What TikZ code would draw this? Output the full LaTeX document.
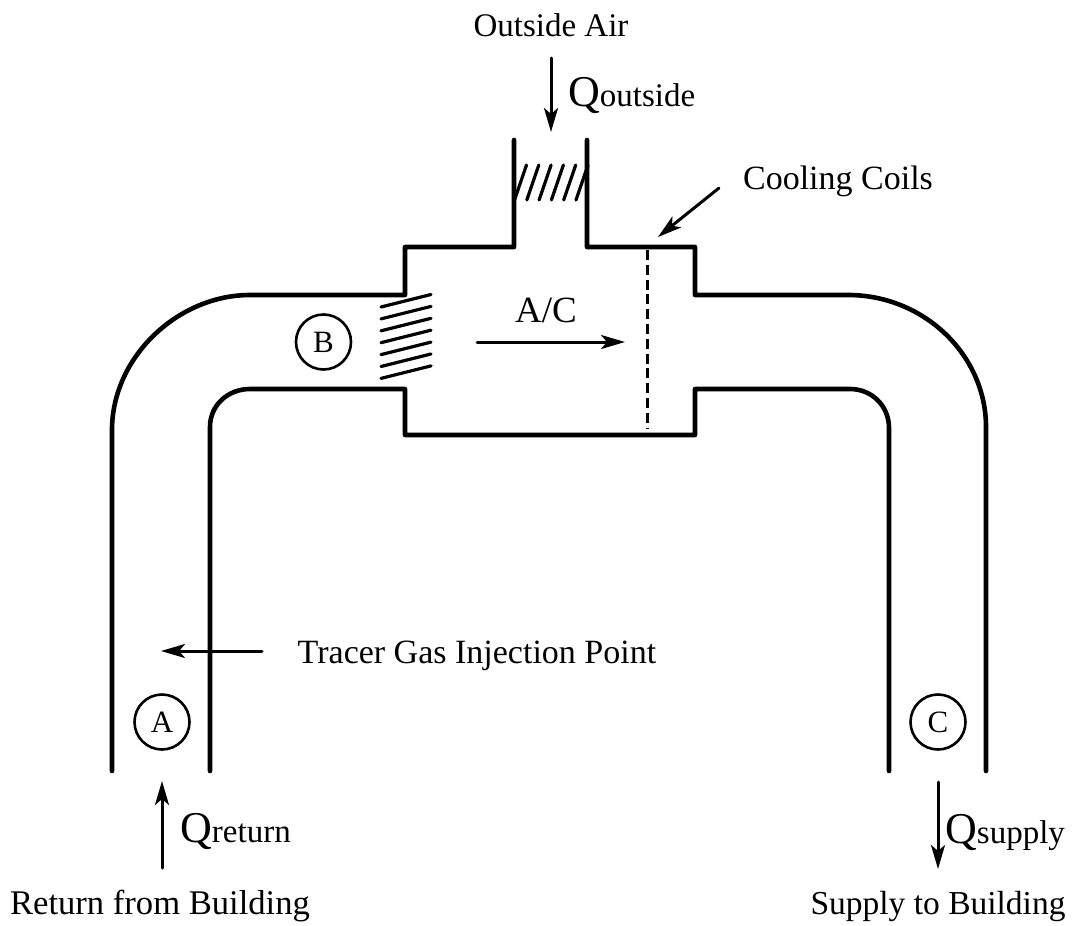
\documentclass[tikz,border=0pt]{standalone}
\usepackage{fontspec}
\setmainfont{Liberation Serif}
\usetikzlibrary{arrows.meta}
\tikzset{
 wall/.style={line width=4.6pt,line cap=round,line join=round},
 flow/.style={line width=3pt,line cap=round,-{Stealth[length=24pt,width=14pt,inset=6pt]}},
 louver/.style={line width=3.2pt,line cap=round},
 lab/.style={inner sep=0pt,anchor=base,font=\fontsize{34}{38}\selectfont},
 flowlab/.style={inner sep=0pt,anchor=base west,font=\fontsize{33}{38}\selectfont},
 mark circle/.style={circle,draw,line width=2.6pt,minimum size=55pt,inner sep=0pt,font=\fontsize{31}{34}\selectfont},
}
\newcommand{\Qq}[1]{{\fontsize{44}{50}\selectfont Q}#1}
\begin{document}
\begin{tikzpicture}[x=1pt,y=-1pt]
\useasboundingbox (0,0) rectangle (1076,926);
\draw[wall] (112,771) -- (112,430) .. controls (112,357) and (178,295) .. (250,295) -- (405,295) -- (405,247) -- (514,247) -- (514,140);
\draw[wall] (587,140) -- (587,247) -- (695,247) -- (695,295) -- (848,295) .. controls (924,295) and (986,355) .. (986,427) -- (986,771);
\draw[wall] (210,771) -- (210,427) .. controls (210,405) and (228,389) .. (250,389) -- (405,389) -- (405,435) -- (695,435) -- (695,389) -- (850,389) .. controls (872,389) and (889,406) .. (889,428) -- (889,771);
\draw[line width=3pt,dash pattern=on 10pt off 4.8pt] (647,250) -- (647,428);
\foreach \i in {0,...,5} \draw[louver] ({514.5+\i*12.3},200) -- ({526.5+\i*12.3},165);
\foreach \i in {0,...,6} \draw[louver] (381,{307+\i*11.9}) -- (431,{294.5+\i*11.9});
\coordinate (oa1) at (551,58); \coordinate (oa2) at (551,132);
\coordinate (cc1) at (719,188); \coordinate (cc2) at (658,237);
\coordinate (ac1) at (477,342); \coordinate (ac2) at (625,342);
\coordinate (tg1) at (262,651); \coordinate (tg2) at (161,651);
\coordinate (re1) at (162,868); \coordinate (re2) at (162,781);
\coordinate (su1) at (938,782); \coordinate (su2) at (938,869);
\draw[flow] (oa1) -- (oa2);
\draw[flow] (cc1) -- (cc2);
\draw[flow] (ac1) -- (ac2);
\draw[flow] (tg1) -- (tg2);
\draw[flow] (re1) -- (re2);
\draw[flow] (su1) -- (su2);
\node[mark circle] (A) at (162,722) {A};
\node[mark circle] (B) at (323.5,342) {B};
\node[mark circle] (C) at (938,722) {C};
\node[lab,font=\fontsize{33}{38}\selectfont] (outside) at (551,36) {Outside Air};
\node[flowlab] (qo) at (568,106) {\Qq{outside}};
\node[lab] (coils) at (838,189) {Cooling Coils};
\node[lab,font=\fontsize{37}{40}\selectfont] (ac) at (546,322) {A/C};
\node[lab] (tracer) at (477,663) {Tracer Gas Injection Point};
\node[flowlab] (qr) at (180,842) {\Qq{return}};
\node[flowlab] (qs) at (945,843) {\Qq{supply}};
\node[lab,font=\fontsize{34.6}{38}\selectfont] (ret) at (160,914) {Return from Building};
\node[lab,font=\fontsize{33.5}{38}\selectfont] (sup) at (938,914) {Supply to Building};
\end{tikzpicture}
\end{document}
